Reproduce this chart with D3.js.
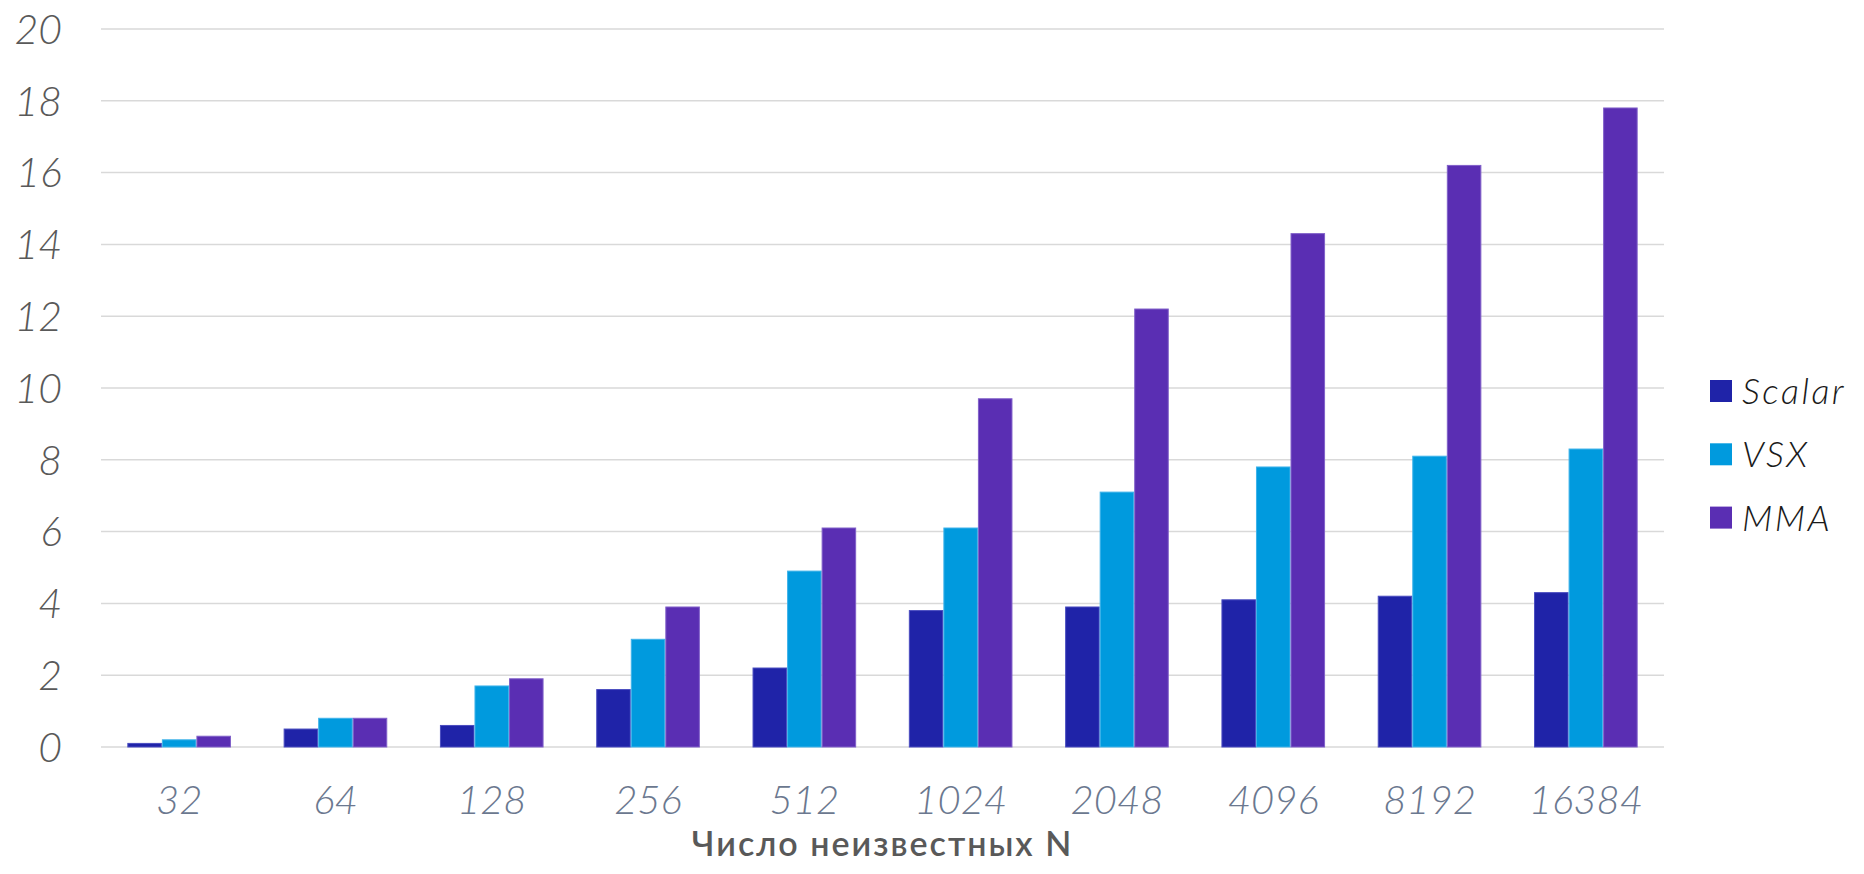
<!DOCTYPE html>
<html>
<head>
<meta charset="utf-8">
<script src="https://cdn.jsdelivr.net/npm/d3@7"></script>
<style>
  html, body { margin: 0; padding: 0; background: #fff; }
  svg { display: block; }
  text { font-family: "Lato", "Open Sans", sans-serif; }
</style>
</head>
<body>
<svg id="chart" width="1864" height="874"></svg>
<script>
// Problem sizes (number of unknowns)
const categories = ["32", "64", "128", "256", "512", "1024", "2048", "4096", "8192", "16384"];
const seriesNames = ["Scalar", "VSX", "MMA"];
const scalarValues = [0.1, 0.5, 0.6, 1.6, 2.2, 3.8, 3.9, 4.1, 4.2, 4.3];
const vsxValues    = [0.2, 0.8, 1.7, 3.0, 4.9, 6.1, 7.1, 7.8, 8.1, 8.3];
const mmaValues    = [0.3, 0.8, 1.9, 3.9, 6.1, 9.7, 12.2, 14.3, 16.2, 17.8];
const yTicks = [0, 2, 4, 6, 8, 10, 12, 14, 16, 18, 20];
const xTitle = "Число неизвестных N";

const colors = { Scalar: "#1f23a8", VSX: "#009ade", MMA: "#5a2eb3" };
const edges  = { Scalar: "#4a4dc0", VSX: "#3fb3ea", MMA: "#8060c9" };

const values = { Scalar: scalarValues, VSX: vsxValues, MMA: mmaValues };
const rows = categories.map((c, i) => ({
  cat: c,
  items: seriesNames.map(s => ({ series: s, value: values[s][i] }))
}));

const svg = d3.select("#chart");
const plot = { left: 101, right: 1664, top: 29, bottom: 747 };

const x = d3.scaleBand()
  .domain(categories)
  .range([plot.left, plot.right])
  .paddingInner(0.337)
  .paddingOuter(0.337 / 2);

const xInner = d3.scaleBand()
  .domain(seriesNames)
  .range([0, x.bandwidth()])
  .padding(0);

const y = d3.scaleLinear()
  .domain([0, 20])
  .range([plot.bottom, plot.top]);

// Horizontal gridlines
svg.append("g")
  .selectAll("line")
  .data(yTicks)
  .join("line")
  .attr("x1", plot.left)
  .attr("x2", plot.right)
  .attr("y1", d => y(d))
  .attr("y2", d => y(d))
  .attr("stroke", "#d9d9d9")
  .attr("stroke-width", 1.5);

// Y axis labels
const yAxis = d3.axisLeft(y).tickValues(yTicks).tickSize(0).tickPadding(0);
const gy = svg.append("g")
  .attr("transform", `translate(62,0)`)
  .call(yAxis);
gy.select(".domain").remove();
gy.selectAll("text")
  .attr("fill", "#595959")
  .attr("font-size", 41)
  .attr("font-style", "italic")
  .attr("font-weight", 300)
  .attr("dy", "0.35em");

// Bars
const groups = svg.append("g")
  .selectAll("g")
  .data(rows)
  .join("g")
  .attr("transform", d => `translate(${x(d.cat)},0)`);

groups.selectAll("rect")
  .data(d => d.items)
  .join("rect")
  .attr("x", d => xInner(d.series) + 0.5)
  .attr("width", xInner.bandwidth() - 1)
  .attr("y", d => y(d.value))
  .attr("height", d => y(0) - y(d.value))
  .attr("fill", d => colors[d.series])
  .attr("stroke", d => edges[d.series])
  .attr("stroke-width", 1);

// X axis labels
const xAxis = d3.axisBottom(x).tickSize(0).tickPadding(0);
const gx = svg.append("g")
  .attr("transform", `translate(0,${plot.bottom})`)
  .call(xAxis);
gx.select(".domain").remove();
gx.selectAll("text")
  .attr("fill", "#6b788f")
  .attr("font-size", 40)
  .attr("font-style", "italic")
  .attr("font-weight", 300)
  .attr("y", 67)
  .attr("dy", 0);

// X axis title
svg.append("text")
  .attr("x", (plot.left + plot.right) / 2)
  .attr("y", 856)
  .attr("text-anchor", "middle")
  .attr("fill", "#595959")
  .attr("font-size", 34)
  .attr("font-weight", 600)
  .attr("letter-spacing", 2)
  .text(xTitle);

// Legend
const legend = svg.append("g")
  .selectAll("g")
  .data(seriesNames)
  .join("g")
  .attr("transform", (d, i) => `translate(1710,${380 + i * 63.3})`);

legend.append("rect")
  .attr("width", 22)
  .attr("height", 22)
  .attr("fill", d => colors[d]);

legend.append("text")
  .attr("x", 32)
  .attr("y", 11)
  .attr("dy", "0.36em")
  .attr("fill", "#1a1a1a")
  .attr("font-size", 36)
  .attr("font-style", "italic")
  .attr("font-weight", 300)
  .attr("letter-spacing", 2.5)
  .text(d => d);
</script>
</body>
</html>
